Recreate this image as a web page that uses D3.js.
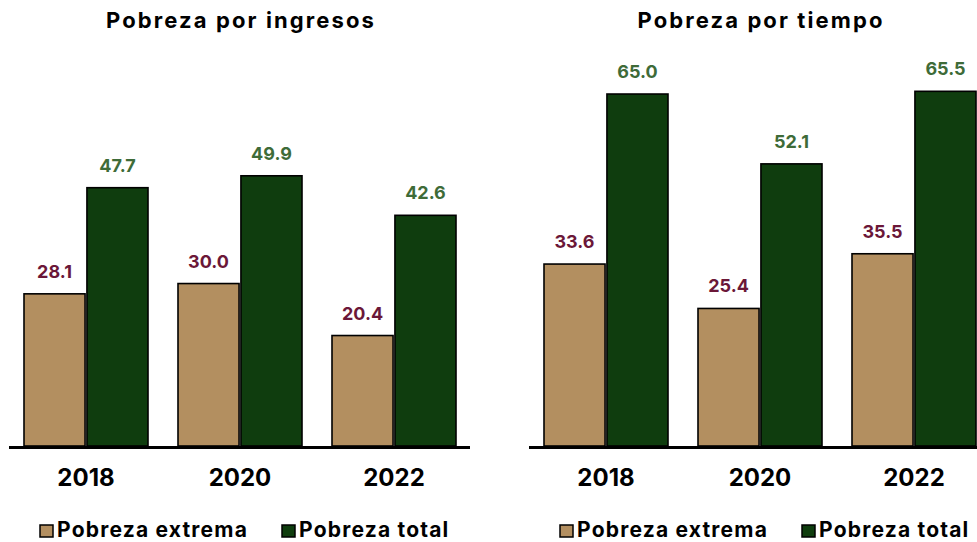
<!DOCTYPE html>
<html><head><meta charset="utf-8">
<script src="https://cdn.jsdelivr.net/npm/d3@7"></script>
<style>body{margin:0;background:#fff}svg{display:block}text{font-family:Inter, "Noto Sans", sans-serif;font-weight:700}</style>
</head><body>
<script>
const years = ["2018","2020","2022"];
const seriesNames = ["Pobreza extrema","Pobreza total"];
const ingresosExtrema = [28.1, 30.0, 20.4];
const ingresosTotal = [47.7, 49.9, 42.6];
const tiempoExtrema = [33.6, 25.4, 35.5];
const tiempoTotal = [65.0, 52.1, 65.5];
const panelTitles = ["Pobreza por ingresos","Pobreza por tiempo"];

const W = 977, H = 542;
const fills = ["#b38f60", "#0f3d0e"];
const labelColors = ["#6b1738", "#3e6b38"];
const svg = d3.select("body").append("svg").attr("width", W).attr("height", H);

const y = d3.scaleLinear().domain([0, 80]).range([446, 446 - 80*5.415]);

const panels = [
  {title: panelTitles[0], ex: ingresosExtrema, tot: ingresosTotal, range: [24, 456], axis: [9, 470], titleX: 241, legendX: 40},
  {title: panelTitles[1], ex: tiempoExtrema, tot: tiempoTotal, range: [544, 976], axis: [529, 977], titleX: 761, legendX: 560}
];

panels.forEach(p => {
  const g = svg.append("g");
  const x0 = d3.scaleBand().domain(years).range(p.range).paddingInner(30/154).paddingOuter(0);
  const x1 = d3.scaleBand().domain(seriesNames).range([0, x0.bandwidth()]).paddingInner(0.03);
  g.append("text").attr("x", p.titleX).attr("y", 28).attr("text-anchor", "middle")
    .attr("font-size", 22).attr("letter-spacing", 2.1).attr("fill", "#000").text(p.title);
  const data = years.map((yr, i) => ({year: yr, vals: [p.ex[i], p.tot[i]]}));
  const grp = g.selectAll("g.grp").data(data).join("g").attr("transform", d => `translate(${x0(d.year)},0)`);
  grp.selectAll("rect").data(d => d.vals.map((v, k) => ({k, v}))).join("rect")
    .attr("x", d => x1(seriesNames[d.k])).attr("width", x1.bandwidth())
    .attr("y", d => y(d.v)).attr("height", d => y(0) - y(d.v))
    .attr("fill", d => fills[d.k]).attr("stroke", "#000").attr("stroke-width", 1.6);
  grp.selectAll("text.val").data(d => d.vals.map((v, k) => ({k, v}))).join("text").attr("class", "val")
    .attr("x", d => x1(seriesNames[d.k]) + x1.bandwidth()/2).attr("y", d => y(d.v) - 16)
    .attr("text-anchor", "middle").attr("font-size", 18).attr("fill", d => labelColors[d.k])
    .text(d => d.v.toFixed(1));
  // axis
  const xAxis = d3.axisBottom(x0).tickSize(0).tickPadding(23);
  const ax = g.append("g").attr("transform", `translate(0,${y(0)})`).call(xAxis);
  ax.select(".domain").remove();
  ax.selectAll("text").attr("font-size", 24).attr("fill", "#000").attr("font-family", "Inter, sans-serif").attr("font-weight", 700);
  g.append("line").attr("x1", p.axis[0]).attr("x2", p.axis[1]).attr("y1", y(0)+1.5).attr("y2", y(0)+1.5)
    .attr("stroke", "#000").attr("stroke-width", 3);
  // legend
  const lg = g.append("g").attr("transform", `translate(${p.legendX},529)`);
  const offs = [0, 242];
  seriesNames.forEach((s, k) => {
    lg.append("rect").attr("x", offs[k]).attr("y", -4).attr("width", 13).attr("height", 12)
      .attr("fill", fills[k]).attr("stroke", "#000").attr("stroke-width", 1.5);
    lg.append("text").attr("x", offs[k] + 17).attr("y", 8).attr("font-size", 21).attr("letter-spacing", 1.2)
      .attr("fill", "#000").text(s);
  });
});
</script>
</body></html>
